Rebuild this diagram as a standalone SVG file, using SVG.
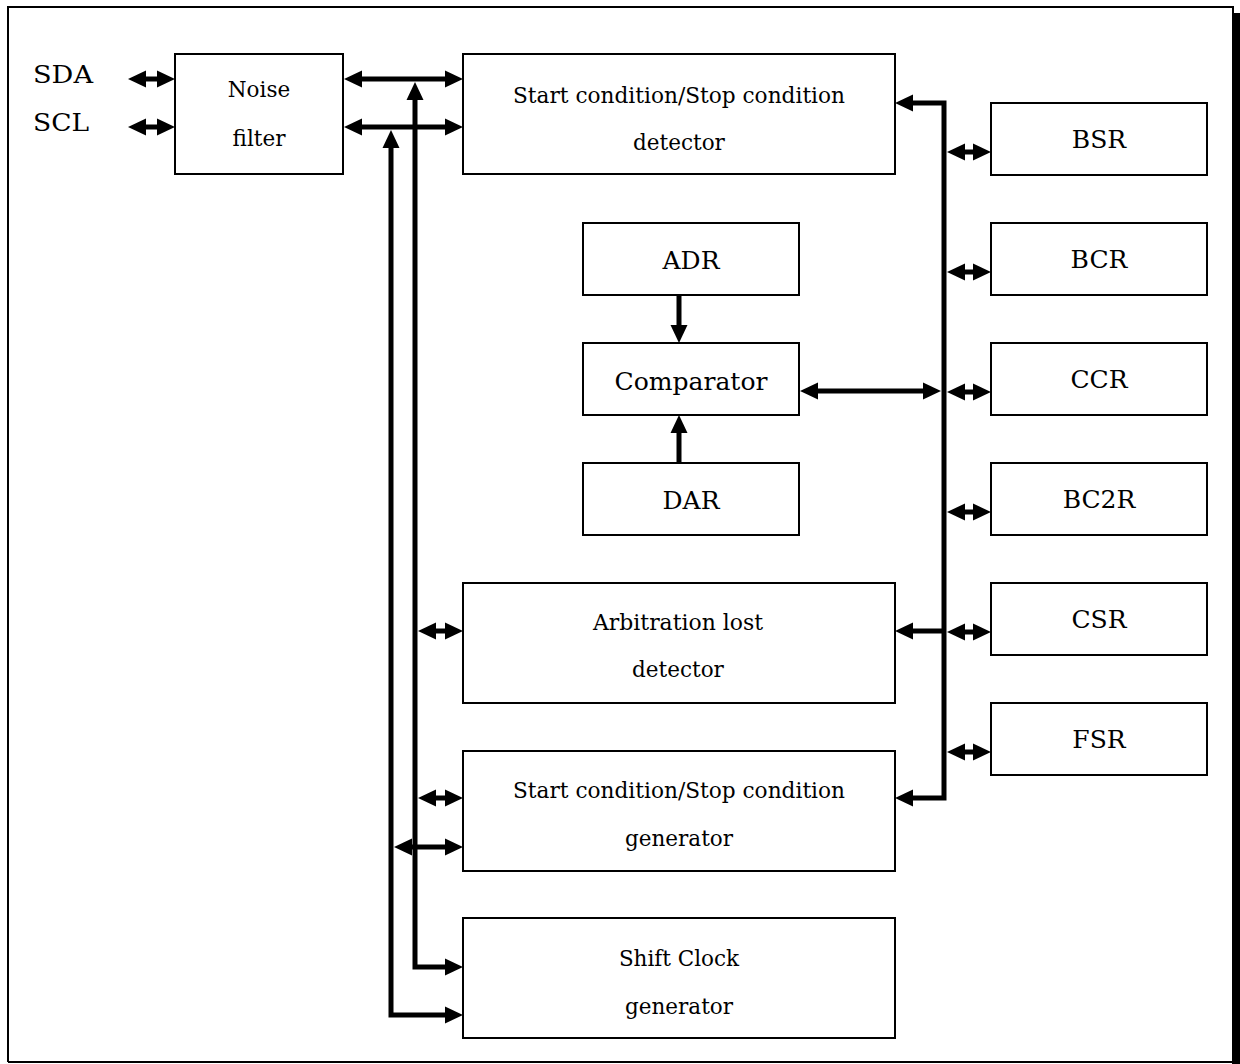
<svg xmlns="http://www.w3.org/2000/svg" width="1240" height="1064" viewBox="0 0 1240 1064">
<style>
.box{fill:#fff;stroke:#000;stroke-width:2}
.c{fill:none;stroke:#000;stroke-width:5;stroke-linejoin:miter}
.big{font-family:"DejaVu Serif","Liberation Serif",serif;font-size:25px;fill:#000}
.sm{font-family:"DejaVu Serif","Liberation Serif",serif;font-size:21.5px;fill:#000;text-anchor:middle}
.mid{text-anchor:middle}
</style>
<defs>
<marker id="ah" markerUnits="userSpaceOnUse" markerWidth="18" markerHeight="17" refX="8" refY="8.5" orient="auto-start-reverse" overflow="visible">
<path d="M0,0 L18,8.5 L0,17 z" fill="#000"/>
</marker>
</defs>
<rect width="1240" height="1064" fill="#fff"/>
<g id="frame">
<path d="M8,1062 L8,7 L1233,7 L1233,13" fill="none" stroke="#000" stroke-width="2"/>
<line x1="8" y1="1062" x2="1233" y2="1062" stroke="#000" stroke-width="2"/>
<rect x="1232" y="13" width="8" height="1051" fill="#000"/>
</g>
<g id="labels">
<text class="big" x="33" y="83" textLength="60" lengthAdjust="spacingAndGlyphs">SDA</text>
<text class="big" x="33" y="131" textLength="56" lengthAdjust="spacingAndGlyphs">SCL</text>
</g>
<g id="noise-filter">
<rect class="box" x="175" y="54" width="168" height="120"/>
<text class="sm" x="259" y="97">Noise</text>
<text class="sm" x="259" y="146">filter</text>
</g>
<g id="ss-detector">
<rect class="box" x="463" y="54" width="432" height="120"/>
<text class="sm" x="679" y="103" textLength="332" lengthAdjust="spacingAndGlyphs">Start condition/Stop condition</text>
<text class="sm" x="679" y="150">detector</text>
</g>
<g id="adr">
<rect class="box" x="583" y="223" width="216" height="72"/>
<text class="big mid" x="691" y="269">ADR</text>
</g>
<g id="comparator">
<rect class="box" x="583" y="343" width="216" height="72"/>
<text class="big mid" x="691" y="390" textLength="153" lengthAdjust="spacingAndGlyphs">Comparator</text>
</g>
<g id="dar">
<rect class="box" x="583" y="463" width="216" height="72"/>
<text class="big mid" x="691" y="509">DAR</text>
</g>
<g id="arbitration">
<rect class="box" x="463" y="583" width="432" height="120"/>
<text class="sm" x="678" y="630" textLength="170" lengthAdjust="spacingAndGlyphs">Arbitration lost</text>
<text class="sm" x="678" y="677">detector</text>
</g>
<g id="ss-generator">
<rect class="box" x="463" y="751" width="432" height="120"/>
<text class="sm" x="679" y="798" textLength="332" lengthAdjust="spacingAndGlyphs">Start condition/Stop condition</text>
<text class="sm" x="679" y="846">generator</text>
</g>
<g id="shift-clock">
<rect class="box" x="463" y="918" width="432" height="120"/>
<text class="sm" x="679" y="966">Shift Clock</text>
<text class="sm" x="679" y="1014">generator</text>
</g>
<g id="bsr"><rect class="box" x="991" y="103" width="216" height="72"/><text class="big mid" x="1099" y="148">BSR</text></g>
<g id="bcr"><rect class="box" x="991" y="223" width="216" height="72"/><text class="big mid" x="1099" y="268">BCR</text></g>
<g id="ccr"><rect class="box" x="991" y="343" width="216" height="72"/><text class="big mid" x="1099" y="388">CCR</text></g>
<g id="bc2r"><rect class="box" x="991" y="463" width="216" height="72"/><text class="big mid" x="1099" y="508">BC2R</text></g>
<g id="csr"><rect class="box" x="991" y="583" width="216" height="72"/><text class="big mid" x="1099" y="628">CSR</text></g>
<g id="fsr"><rect class="box" x="991" y="703" width="216" height="72"/><text class="big mid" x="1099" y="748">FSR</text></g>
<g id="connectors">
<line class="c" x1="138" y1="79" x2="165" y2="79" marker-start="url(#ah)" marker-end="url(#ah)"/>
<line class="c" x1="138" y1="127" x2="165" y2="127" marker-start="url(#ah)" marker-end="url(#ah)"/>
<line class="c" x1="354" y1="79" x2="453" y2="79" marker-start="url(#ah)" marker-end="url(#ah)"/>
<line class="c" x1="354" y1="127" x2="453" y2="127" marker-start="url(#ah)" marker-end="url(#ah)"/>
<path class="c" d="M415,92 L415,967 L453,967" marker-start="url(#ah)" marker-end="url(#ah)"/>
<path class="c" d="M391,140 L391,1015 L453,1015" marker-start="url(#ah)" marker-end="url(#ah)"/>
<line class="c" x1="428" y1="631" x2="453" y2="631" marker-start="url(#ah)" marker-end="url(#ah)"/>
<line class="c" x1="428" y1="798" x2="453" y2="798" marker-start="url(#ah)" marker-end="url(#ah)"/>
<line class="c" x1="404" y1="847" x2="453" y2="847" marker-start="url(#ah)" marker-end="url(#ah)"/>
<path class="c" d="M905,103 L944,103 L944,798 L905,798" marker-start="url(#ah)" marker-end="url(#ah)"/>
<line class="c" x1="944" y1="631" x2="905" y2="631" marker-end="url(#ah)"/>
<line class="c" x1="957" y1="152" x2="981" y2="152" marker-start="url(#ah)" marker-end="url(#ah)"/>
<line class="c" x1="957" y1="272" x2="981" y2="272" marker-start="url(#ah)" marker-end="url(#ah)"/>
<line class="c" x1="957" y1="392" x2="981" y2="392" marker-start="url(#ah)" marker-end="url(#ah)"/>
<line class="c" x1="957" y1="512" x2="981" y2="512" marker-start="url(#ah)" marker-end="url(#ah)"/>
<line class="c" x1="957" y1="632" x2="981" y2="632" marker-start="url(#ah)" marker-end="url(#ah)"/>
<line class="c" x1="957" y1="752" x2="981" y2="752" marker-start="url(#ah)" marker-end="url(#ah)"/>
<line class="c" x1="810" y1="391" x2="931" y2="391" marker-start="url(#ah)" marker-end="url(#ah)"/>
<line class="c" x1="679" y1="295" x2="679" y2="333" marker-end="url(#ah)"/>
<line class="c" x1="679" y1="463" x2="679" y2="425" marker-end="url(#ah)"/>
</g>
</svg>
